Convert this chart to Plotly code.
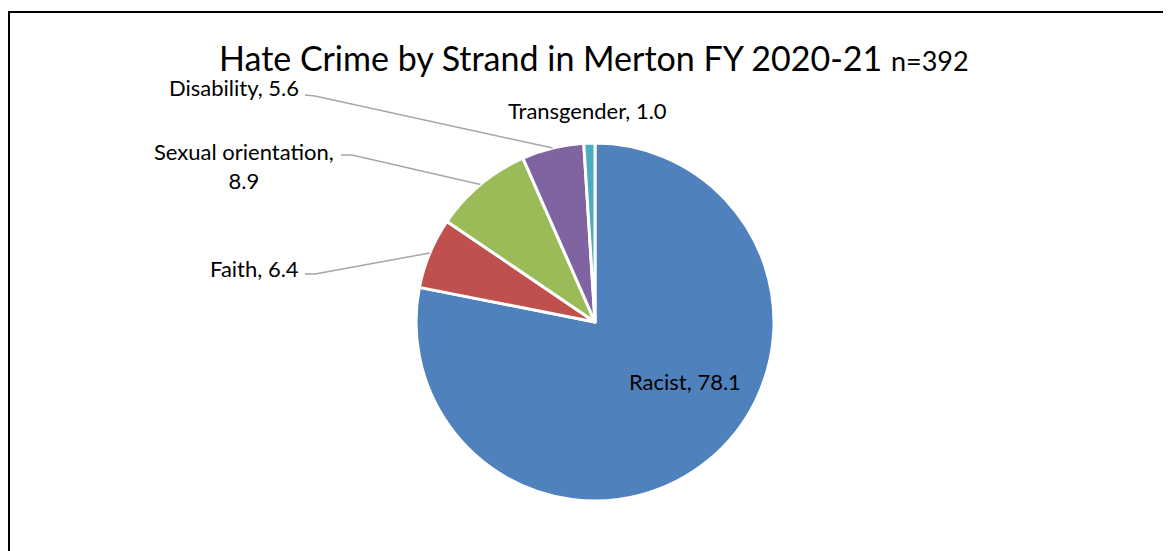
import math
import plotly.graph_objects as go

categories = ["Racist", "Faith", "Sexual orientation", "Disability", "Transgender"]
values = [78.1, 6.4, 8.9, 5.6, 1.0]
colors = ["#4F81BD", "#C0504D", "#9BBB59", "#8064A2", "#4BACC6"]
label_text = ["Racist, 78.1", "Faith, 6.4", "Sexual orientation,<br>8.9", "Disability, 5.6", "Transgender, 1.0"]

W, H = 1171, 551
OX, OY = 8, 8  # page body margin offset
CX, CY, R = 595, 322, 179  # pie centre / radius in screen pixels

FONT = "Lato, Carlito, Calibri, sans-serif"

def px(x):
    return (x - OX) / W

def py(y):
    return 1 - (y - OY) / H

fig = go.Figure()
fig.add_trace(go.Pie(
    labels=categories,
    values=values,
    sort=False,
    direction="clockwise",
    rotation=0,
    marker=dict(colors=colors, line=dict(color="white", width=3)),
    textinfo="none",
    hoverinfo="none",
    showlegend=False,
    domain=dict(x=[px(CX - R), px(CX + R)], y=[py(CY + R), py(CY - R)]),
))

# label placement (screen pixels): (x, y, xanchor, elbow segment or None)
label_pos = {
    "Racist": (685, 381, "center", None),
    "Faith": (301, 268, "right", (305, 274, 315, 274)),
    "Sexual orientation": (244, 166, "center", (341, 155, 352, 155)),
    "Disability": (301, 88, "right", (305, 95, 315, 96)),
    "Transgender": (587, 111, "center", None),
}

total = sum(values)
cum = 0.0
shapes = []
annotations = []
for cat, val, txt in zip(categories, values, label_text):
    mid = (cum + val / 2) / total * 2 * math.pi
    cum += val
    ex = CX + R * math.sin(mid)
    ey = CY - R * math.cos(mid)
    x, y, anchor, elbow = label_pos[cat]
    annotations.append(dict(
        x=px(x), y=py(y), xref="paper", yref="paper", text=txt,
        showarrow=False, xanchor=anchor, yanchor="middle", align="center",
        font=dict(family=FONT, size=22, color="#000000"),
    ))
    if elbow is not None:
        x0, y0, x1, y1 = elbow
        path = f"M {px(x0)},{py(y0)} L {px(x1)},{py(y1)} L {px(ex)},{py(ey)}"
        shapes.append(dict(type="path", xref="paper", yref="paper", path=path,
                           line=dict(color="#A6A6A6", width=1.5)))

# outer chart border (extends beyond right/bottom edges)
shapes.append(dict(type="rect", xref="paper", yref="paper",
                   x0=px(9), x1=1.05, y0=-0.05, y1=py(12),
                   line=dict(color="black", width=2), fillcolor="rgba(0,0,0,0)"))

annotations.append(dict(
    x=px(594), y=py(57), xref="paper", yref="paper",
    text="Hate Crime by Strand in Merton FY 2020-21 <span style='font-size:27px'>n=392</span>",
    showarrow=False, xanchor="center", yanchor="middle",
    font=dict(family=FONT, size=34, color="#000000"),
))

fig.update_layout(
    width=W, height=H,
    margin=dict(l=0, r=0, t=0, b=0),
    paper_bgcolor="white", plot_bgcolor="white",
    shapes=shapes, annotations=annotations,
    hovermode=False,
)

fig.write_html("out.html", config={"displayModeBar": False})
